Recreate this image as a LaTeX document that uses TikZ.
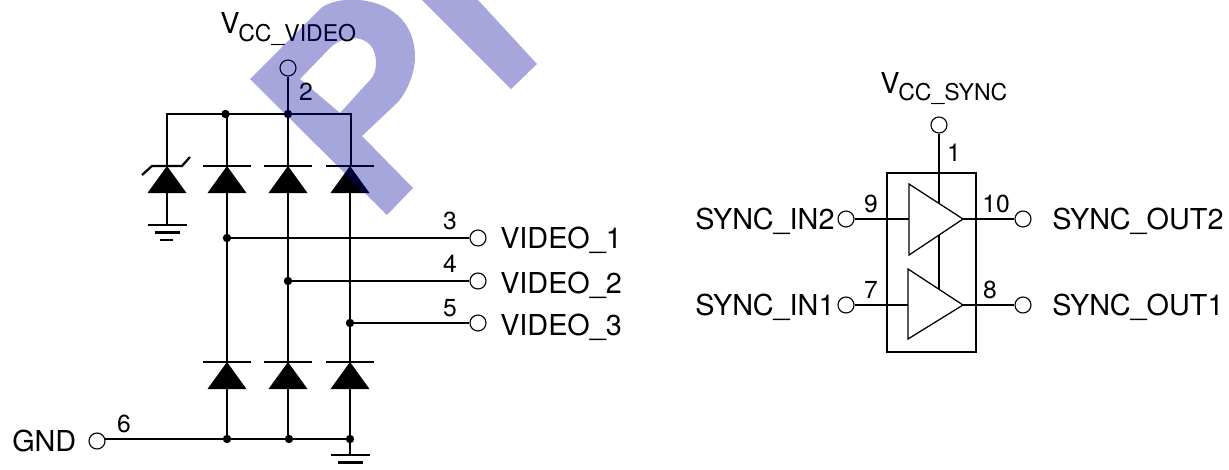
\documentclass[tikz,border=0pt]{standalone}
\usepackage{fontspec}
\setmainfont{TeX Gyre Heros}
\newcommand{\bigfont}{\fontsize{21.6}{24}\selectfont}
\newcommand{\subfont}{\fontsize{17.3}{20}\selectfont}
\newcommand{\smallfont}{\fontsize{18.5}{20}\selectfont}
\tikzset{
  wire/.style={line width=1.7pt},
  thinline/.style={line width=0.95pt,line join=miter},
  term/.style={circle,draw,line width=0.85pt,inner sep=0pt,minimum size=12pt},
  jct/.style={circle,fill=black,inner sep=0pt,minimum size=6.3pt},
  big/.style={font=\bigfont,inner sep=0pt,anchor=base west,text=black},
  sub/.style={font=\subfont,inner sep=0pt,anchor=base west,text=black},
  pin/.style={font=\smallfont,inner sep=0pt,text=black},
}
\newcommand{\diode}[3]{% x, bar y, half bar width
  \fill (#1-19.5,#2+27) -- (#1+19.5,#2+27) -- (#1,#2) -- cycle;
  \draw[wire] (#1-#3,#2) -- (#1+#3,#2);
}
\newcommand{\gndbars}[2]{%
  \draw[wire] (#1-19.5,#2) -- (#1+19.5,#2);
  \draw[wire] (#1-12.5,#2+7.5) -- (#1+12.5,#2+7.5);
}
\begin{document}
\begin{tikzpicture}[x=0.75pt,y=-0.75pt]
\useasboundingbox (0,0) rectangle (1229,469);
% --- left network
\node[term] (vccv) at (288,68) {};
\node[jct] (j1) at (225.5,114) {};
\node[jct] (j2) at (288,114) {};
\coordinate (zt) at (167,114);
\coordinate (rt) at (351,114);
\node[jct] (j3) at (227,238) {};
\node[jct] (j4) at (288,281) {};
\node[jct] (j5) at (350,323) {};
\node[jct] (j6) at (227,439) {};
\node[jct] (j7) at (289,439) {};
\node[jct] (j8) at (350,439) {};
\node[term] (t3) at (478,238) {};
\node[term] (t4) at (478,281) {};
\node[term] (t5) at (478,323) {};
\node[term] (t6) at (97,441) {};
\coordinate (t6w) at (105,439);
\coordinate (g1) at (167,225);
\coordinate (g2) at (350,455);
\coordinate (zc) at (167,166);
\draw[wire] (vccv) -- (j2);
\draw[wire] (zc) -- (zt) -- (rt) -- (351,166) -- (350,166);
\draw[wire] (167,193) -- (g1);
\draw[wire] (227,114) -- (227,439);
\draw[wire] (j2.center) -- (288,439);
\draw[wire] (350,166) -- (j8.center);
\draw[wire] (j3) -- (t3);
\draw[wire] (j4) -- (t4);
\draw[wire] (j5) -- (t5);
\draw[wire] (t6w) -- (j8.center);
\draw[wire] (j8) -- (g2);
% zener
\fill (147.5,193) -- (186.5,193) -- (167,166) -- cycle;
\draw[wire] (142,175) -- (152,166) -- (182,166) -- (190,157);
\gndbars{167}{225}
\draw[wire] (160,240) -- (173,240);
% diodes
\diode{227}{166}{24}
\diode{288}{166}{24}
\diode{350}{166}{24}
\diode{227}{362}{24}
\diode{288}{362}{24}
\diode{350}{362}{24}
\gndbars{350}{455}
% --- left labels
\node[big] (vv) at (220,33) {V};
\node[sub] (vvs) at (238,41) {CC\_VIDEO};
\node[pin] (p2) at (306,92) {2};
\node[pin] (p3) at (450,221) {3};
\node[pin] (p4) at (450,264) {4};
\node[pin] (p5) at (450,308) {5};
\node[pin] (p6) at (124,424) {6};
\node[big] (l1) at (500,248) {VIDEO\_1};
\node[big] (l2) at (500,293) {VIDEO\_2};
\node[big] (l3) at (500,335) {VIDEO\_3};
\node[big] (gnd) at (12,451) {GND};
% --- right block
\node[term] (vccs) at (939,125) {};
\coordinate (a1) at (939,203.5);
\coordinate (a2) at (939,235);
\coordinate (a3) at (939,289);
\node[term] (i2) at (846,219) {};
\node[term] (i1) at (846,305) {};
\node[term] (o2) at (1023,219) {};
\node[term] (o1) at (1023,305) {};
\coordinate (t2l) at (909,219);
\coordinate (t2r) at (963,219);
\coordinate (t1l) at (908,305);
\coordinate (t1r) at (963,305);
\draw[wire] (887,173) rectangle (976,352);
\draw[wire] (vccs) -- (a1);
\draw[wire] (a2) -- (a3);
\draw[wire] (i2) -- (t2l);
\draw[wire] (i1) -- (t1l);
\draw[wire] (t2r) -- (o2);
\draw[wire] (t1r) -- (o1);
\draw[thinline] (909,184) -- (963,219) -- (909,255) -- cycle;
\draw[thinline] (908,269) -- (963,305) -- (908,339) -- cycle;
\node[big] (vs) at (880,93.5) {V};
\node[sub] (vss) at (898,100.5) {CC\_SYNC};
\node[pin] (p1) at (954,153) {1};
\node[pin] (p9) at (871,204) {9};
\node[pin] (p10) at (996,204) {10};
\node[pin] (p7) at (871,290) {7};
\node[pin] (p8) at (990,290) {8};
\node[big] (si2) at (695,229) {SYNC\_IN2};
\node[big] (si1) at (695,315) {SYNC\_IN1};
\node[big] (so2) at (1052,229) {SYNC\_OUT2};
\node[big] (so1) at (1052,315) {SYNC\_OUT1};
% --- watermark (overlaid, translucent)
\begin{scope}
\clip (0,0) rectangle (1229,469);
\fill[even odd rule,fill={rgb,255:red,0;green,0;blue,157},fill opacity=0.35]
  (250,79) -- (320,9) .. controls (340,-9) and (415,-5) .. (415,57)
  .. controls (415,75) and (405,95) .. (397,103) -- (362,136) -- (413,188) -- (387,215) -- cycle
  (300,79) -- (330,48) .. controls (345,33) and (376,33) .. (376,63)
  .. controls (376,70) and (374,76) .. (370,80) -- (340,113) -- cycle;
\fill[fill={rgb,255:red,0;green,0;blue,157},fill opacity=0.35]
  (422,0) -- (478,0) -- (537,64) -- (511,89) -- cycle;
\end{scope}
\end{tikzpicture}
\end{document}
